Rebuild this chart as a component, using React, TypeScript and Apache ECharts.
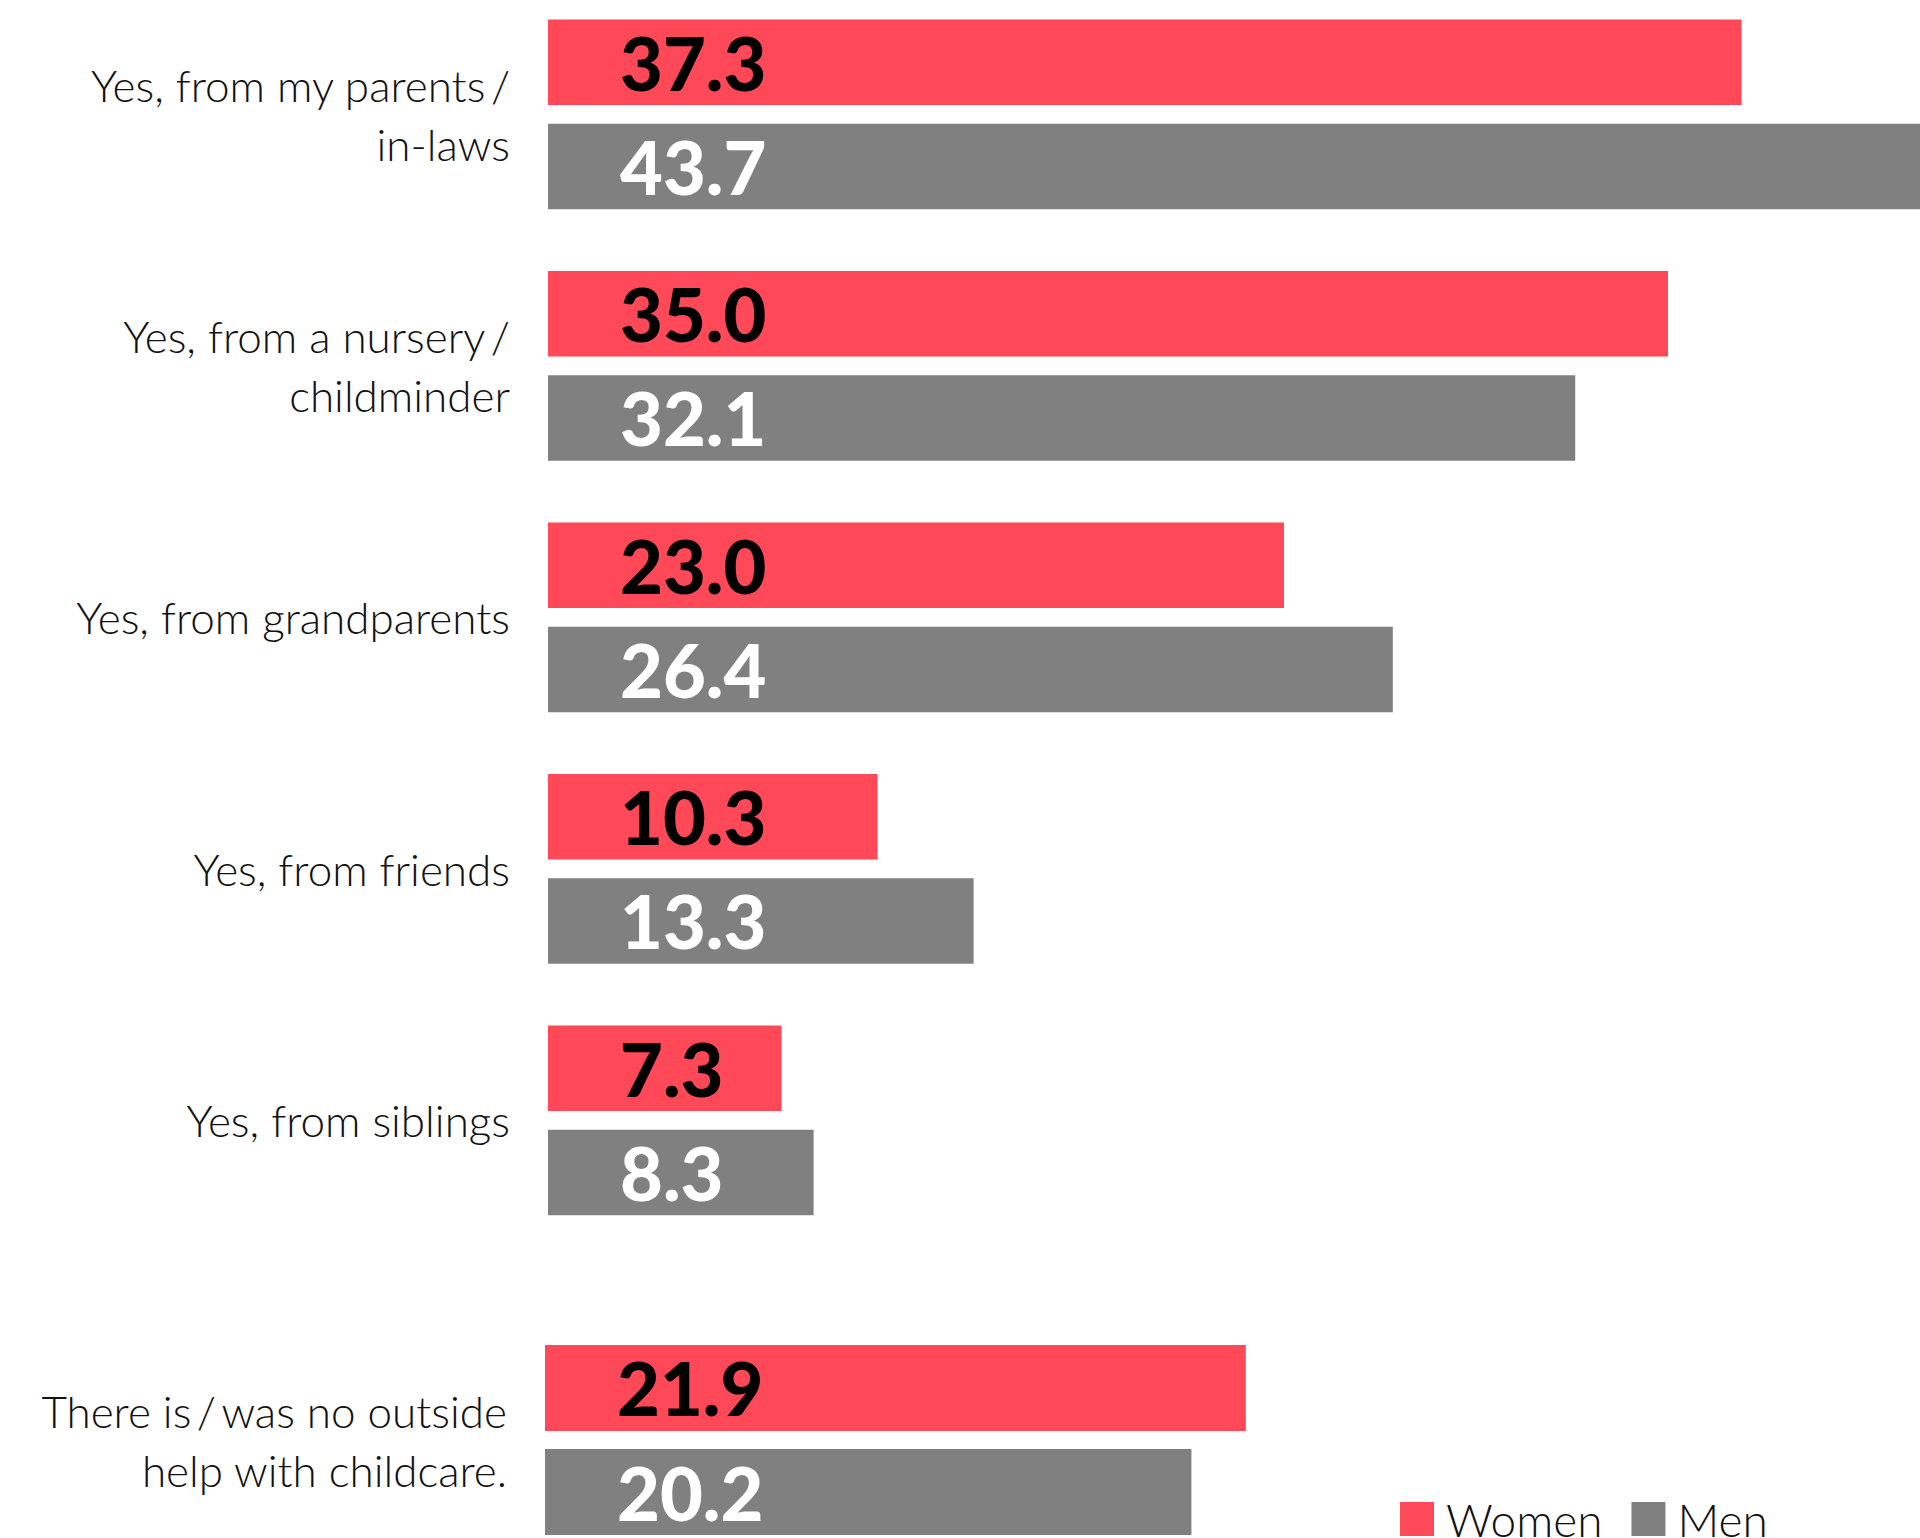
import React, { useEffect, useRef } from "react";
import * as echarts from "echarts";

const categories = [
  "Yes, from my parents\u2009/\nin-laws",
  "Yes, from a nursery\u2009/\nchildminder",
  "Yes, from grandparents",
  "Yes, from friends",
  "Yes, from siblings",
  "There is\u2009/\u2009was no outside\nhelp with childcare.",
];
const women = [37.3, 35.0, 23.0, 10.3, 7.3, 21.9];
const men = [43.7, 32.1, 26.4, 13.3, 8.3, 20.2];
const seriesNames = ["Women", "Men"];

const RED = "#FF4858";
const GRAY = "#808080";
const PX_PER_UNIT = 32;
const W = 1920;
const H = 1538;

export default function App() {
  const ref = useRef<HTMLDivElement>(null);
  useEffect(() => {
    if (!ref.current) return;
    const chart = echarts.init(ref.current, null, { renderer: "svg" });

    const main = 5;
    const catA = categories.slice(0, main);
    const catB = categories.slice(main);

    const g0Left = 548;
    const g1Left = 545;
    const bandH = 251.5;

    const labelStyle = (color: string) => ({
      show: true,
      position: "insideLeft",
      distance: 72,
      color,
      fontFamily: "Lato",
      fontWeight: 900,
      fontSize: 74,
      formatter: (p: any) => Number(p.value).toFixed(1),
    });

    const yLabel = {
      margin: 38,
      color: "#111111",
      fontFamily: "Lato",
      fontWeight: 300,
      fontSize: 44,
      lineHeight: 59,
      align: "right" as const,
    };

    const option: any = {
      animation: false,
      backgroundColor: "#ffffff",
      legend: {
        data: seriesNames,
        left: 1395,
        top: 1491,
        icon: "rect",
        itemWidth: 34,
        itemHeight: 34,
        itemGap: 29,
        textStyle: {
          fontFamily: "Lato",
          fontWeight: 300,
          fontSize: 46,
          lineHeight: 34,
          color: "#111111",
          padding: [0, 0, 0, 7],
        },
        selectedMode: false,
      },
      grid: [
        {
          left: g0Left,
          right: 0,
          top: 114.3 - bandH / 2,
          height: bandH * main,
          containLabel: false,
          outerBoundsMode: "none",
        },
        {
          left: g1Left,
          right: 0,
          top: 1440 - bandH / 2,
          height: bandH,
          containLabel: false,
          outerBoundsMode: "none",
        },
      ],
      xAxis: [
        {
          gridIndex: 0,
          type: "value",
          min: 0,
          max: (W - g0Left) / PX_PER_UNIT,
          show: false,
        },
        {
          gridIndex: 1,
          type: "value",
          min: 0,
          max: (W - g1Left) / PX_PER_UNIT,
          show: false,
        },
      ],
      yAxis: [
        {
          gridIndex: 0,
          type: "category",
          inverse: true,
          data: catA,
          axisLine: { show: false },
          axisTick: { show: false },
          splitLine: { show: false },
          axisLabel: yLabel,
        },
        {
          gridIndex: 1,
          type: "category",
          inverse: true,
          data: catB,
          axisLine: { show: false },
          axisTick: { show: false },
          splitLine: { show: false },
          axisLabel: yLabel,
        },
      ],
      series: [
        {
          name: seriesNames[0],
          type: "bar",
          xAxisIndex: 0,
          yAxisIndex: 0,
          data: women.slice(0, main),
          barWidth: 85.5,
          barGap: "22%",
          itemStyle: { color: RED },
          label: labelStyle("#000000"),
          clip: true,
        },
        {
          name: seriesNames[1],
          type: "bar",
          xAxisIndex: 0,
          yAxisIndex: 0,
          data: men.slice(0, main),
          barWidth: 85.5,
          barGap: "22%",
          itemStyle: { color: GRAY },
          label: labelStyle("#ffffff"),
          clip: true,
        },
        {
          name: seriesNames[0],
          type: "bar",
          xAxisIndex: 1,
          yAxisIndex: 1,
          data: women.slice(main),
          barWidth: 86,
          barGap: "21%",
          itemStyle: { color: RED },
          label: labelStyle("#000000"),
          clip: true,
        },
        {
          name: seriesNames[1],
          type: "bar",
          xAxisIndex: 1,
          yAxisIndex: 1,
          data: men.slice(main),
          barWidth: 86,
          barGap: "21%",
          itemStyle: { color: GRAY },
          label: labelStyle("#ffffff"),
          clip: true,
        },
      ],
    };
    chart.setOption(option);
    return () => chart.dispose();
  }, []);

  return (
    <div
      ref={ref}
      style={{ position: "absolute", left: 0, top: 0, width: W, height: H }}
    />
  );
}
